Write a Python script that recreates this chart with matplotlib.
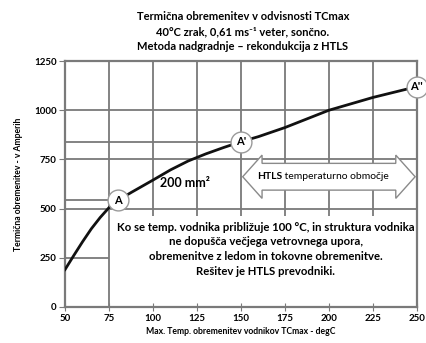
import matplotlib.pyplot as plt
from matplotlib.patches import Polygon

plt.rcParams['font.family'] = ['Lato', 'DejaVu Sans']
plt.rcParams['font.weight'] = 'bold'

# krivulja 200 mm2
temp = [50, 55, 60, 65, 70, 75, 80, 88, 100, 110, 120, 130, 140, 150, 160, 175, 200, 225, 250]
current = [190, 262, 332, 398, 455, 505, 542, 584, 645, 697, 742, 778, 810, 840, 866, 912, 1000, 1065, 1120]

points_lbl = ['A', "A'", "A''"]
points_t = [80, 150, 250]
points_i = [542, 840, 1120]

xticks = [50, 75, 100, 125, 150, 175, 200, 225, 250]
yticks = [0, 250, 500, 750, 1000, 1250]

htls_range = (151, 249)
htls_level = 662

title = ("Termična obremenitev v odvisnosti TCmax\n"
         "40°C zrak, 0,61 ms⁻¹ veter, sončno.\n"
         "Metoda nadgradnje – rekondukcija z HTLS")
note = ("Ko se temp. vodnika približuje 100 °C, in struktura vodnika\n"
        "ne dopušča večjega vetrovnega upora,\n"
        "obremenitve z ledom in tokovne obremenitve.\n"
        "Rešitev je HTLS prevodniki.")

grid_c = '#7a7a7a'

fig = plt.figure(figsize=(4.26, 3.43), dpi=100)
ax = fig.add_axes([0.1526, 0.105, 0.826, 0.717])
ax.set_xlim(50, 250)
ax.set_ylim(0, 1250)
ax.set_xticks(xticks)
ax.set_yticks(yticks)
ax.tick_params(axis='x', direction='inout', length=6, color=grid_c, labelsize=7, pad=2)
ax.tick_params(axis='y', direction='out', length=4, color=grid_c, labelsize=7, pad=2)
for s in ax.spines.values():
    s.set_color(grid_c)
    s.set_linewidth(1.6)

# mreza
for y in [500, 750, 1000]:
    ax.axhline(y, color=grid_c, lw=1.3, zorder=1)
ax.hlines(250, 50, 75, color=grid_c, lw=1.3, zorder=1)
ax.hlines(points_i[0], 50, points_t[0], color=grid_c, lw=1.3, zorder=1)
ax.hlines(points_i[1], 50, points_t[1], color=grid_c, lw=1.3, zorder=1)
ax.axvline(75, color=grid_c, lw=1.3, zorder=1)
ax.vlines(xticks[2:-1], 460, 1250, color=grid_c, lw=1.3, zorder=1)

# puscica HTLS
x0, x1 = htls_range
sh, hh, hl = 68, 110, 11
arrow = Polygon([(x0, htls_level), (x0 + hl, htls_level + hh), (x0 + hl, htls_level + sh),
                 (x1 - hl, htls_level + sh), (x1 - hl, htls_level + hh), (x1, htls_level),
                 (x1 - hl, htls_level - hh), (x1 - hl, htls_level - sh),
                 (x0 + hl, htls_level - sh), (x0 + hl, htls_level - hh)],
                closed=True, facecolor='white', edgecolor='#8a8a8a', lw=1.0, zorder=3)
ax.add_patch(arrow)
t_htls = ax.text(159, htls_level, 'HTLS', fontsize=7.5, fontweight='bold',
                 ha='left', va='center', zorder=4)
ax.annotate(' temperaturno območje', xy=(1, 0.5), xycoords=t_htls, fontsize=7.5,
            fontweight='normal', ha='left', va='center', zorder=4)

ax.plot(temp, current, color='#111111', lw=2, zorder=5)

for lbl, t, i in zip(points_lbl, points_t, points_i):
    ax.plot(t, i, 'o', ms=15, mfc='white', mec='#9a9a9a', mew=1.0, zorder=6, clip_on=False)
    ax.text(t, i, lbl, fontsize=8, fontweight='bold', ha='center', va='center', zorder=7, clip_on=False)

ax.text(118, 630, '200 mm²', fontsize=9, fontweight='bold', ha='center', va='center', zorder=4)
ax.text(164, 294, note, fontsize=8.2, fontweight='bold', ha='center', va='center',
        linespacing=1.4, zorder=4)

fig.text(0.57, 0.907, title, fontsize=8, fontweight='bold', ha='center', va='center', linespacing=1.45)
ax.set_xlabel('Max. Temp. obremenitev vodnikov TCmax - degC', fontsize=6.2, fontweight='bold', labelpad=3)
ax.set_ylabel('Termična obremenitev - v Amperih', fontsize=6.2, fontweight='bold', labelpad=8)

fig.savefig('out.png', dpi=100)
